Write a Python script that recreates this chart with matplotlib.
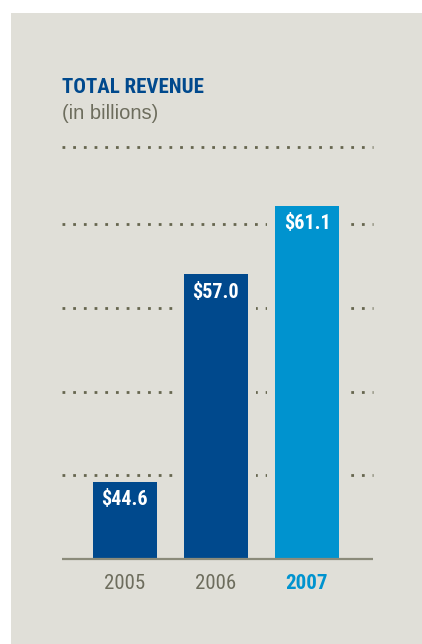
import matplotlib
matplotlib.use("Agg")
import matplotlib.pyplot as plt
from matplotlib.patches import Rectangle

years = ["2005", "2006", "2007"]
revenue = [44.6, 57.0, 61.1]
grid_values = [45, 50, 55, 60]
y_min, y_top = 40, 64.6

panel_bg = "#e0dfd8"
dark_blue = "#00498d"
light_blue = "#0093cf"
text_gray = "#6d6d5d"
dot_gray = "#66664f"
bar_colors = [dark_blue, dark_blue, light_blue]

plt.rcParams["font.family"] = ["Liberation Sans", "DejaVu Sans"]
condensed = ["Roboto Condensed", "DejaVu Sans"]

fig = plt.figure(figsize=(4.22, 6.44), dpi=100)
fig.patch.set_facecolor("white")
# beige panel behind everything
fig.patches.append(Rectangle((11 / 422, 0), 1 - 11 / 422, 1 - 13 / 644,
                             transform=fig.transFigure, facecolor=panel_bg,
                             edgecolor="none", zorder=-5))

ax = fig.add_axes([62 / 422, 85 / 644, 311 / 422, (559 - 147) / 644])
ax.set_facecolor("none")
ax.set_xlim(-0.69, 2.725)
ax.set_ylim(y_min, y_top)

x = list(range(len(years)))
bar_w = 0.703

# dotted guide lines, including the top rule
for v in grid_values + [y_top]:
    ax.plot([-0.69, 2.725], [v, v], color=dot_gray, lw=2.0,
            linestyle=(0, (1, 2.85)), dash_capstyle="butt",
            clip_on=False, zorder=1)

# background-coloured blocks keep a gap between the dots and the bars
ax.bar(x, [r - y_min for r in revenue], width=bar_w + 0.18, bottom=y_min,
       color=panel_bg, zorder=2)
ax.bar(x, [r - y_min for r in revenue], width=bar_w, bottom=y_min,
       color=bar_colors, zorder=3)

ax.plot([-0.69, 2.725], [y_min, y_min], color="#8b8b7a", lw=1.6,
        clip_on=False, zorder=4, solid_capstyle="butt")

for xi, r in zip(x, revenue):
    ax.annotate(f"${r:.1f}", (xi, r), xytext=(0, -6), textcoords="offset points",
                ha="center", va="top", color="white", fontsize=14.5,
                fontweight="bold", family=condensed, zorder=5)

for side in ax.spines.values():
    side.set_visible(False)
ax.set_yticks([])
ax.set_xticks(x)
ax.set_xticklabels(years, fontsize=15, family=condensed)
ax.tick_params(axis="x", length=0, pad=11)
for i, lab in enumerate(ax.get_xticklabels()):
    lab.set_color(light_blue if i == 2 else text_gray)
    if i == 2:
        lab.set_fontweight("bold")

fig.text(62 / 422, 1 - 93 / 644, "TOTAL REVENUE", fontsize=15,
         fontweight="bold", color=dark_blue, family=condensed,
         va="baseline")
fig.text(62 / 422, 1 - 119 / 644, "(in billions)", fontsize=14.5,
         color=text_gray, va="baseline")

fig.savefig("out.png", dpi=100, facecolor=fig.get_facecolor())
